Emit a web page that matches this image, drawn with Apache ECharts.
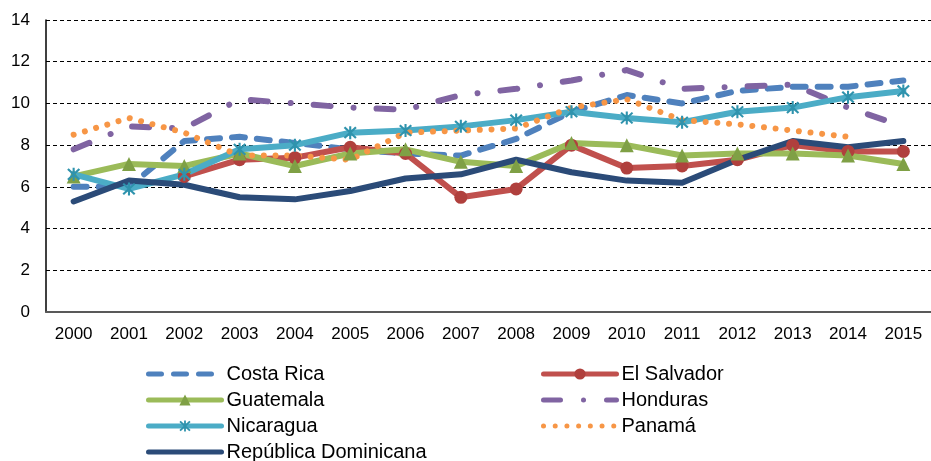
<!DOCTYPE html>
<html>
<head>
<meta charset="utf-8">
<script src="https://cdn.jsdelivr.net/npm/echarts@6/dist/echarts.min.js"></script>
<style>
  html, body { margin: 0; padding: 0; background: #fff; }
  #chart { width: 931px; height: 461px; }
</style>
</head>
<body>
<div id="chart"></div>
<script>
// Years on the horizontal axis
const years = ['2000','2001','2002','2003','2004','2005','2006','2007',
               '2008','2009','2010','2011','2012','2013','2014','2015'];

// Values per country (null = no data for that year)
const costaRica  = [6.0, 6.0, 8.2, 8.4, 8.1, 7.8, 7.6, 7.5, 8.3, 9.6, 10.4, 10.0, 10.6, 10.8, 10.8, 11.1];
const elSalvador = [null, null, 6.5, 7.3, 7.4, 7.9, 7.6, 5.5, 5.9, 8.0, 6.9, 7.0, 7.3, 8.0, 7.7, 7.7];
const guatemala  = [6.5, 7.1, 7.0, 7.6, 7.0, 7.6, 7.8, 7.2, 7.0, 8.1, 8.0, 7.5, 7.6, 7.6, 7.5, 7.1];
const honduras   = [7.8, 8.9, 8.8, 10.2, 10.0, 9.8, 9.7, 10.4, 10.7, 11.1, 11.6, 10.7, 10.8, 10.9, 9.8, 8.9];
const nicaragua  = [6.6, 5.9, 6.6, 7.8, 8.0, 8.6, 8.7, 8.9, 9.2, 9.6, 9.3, 9.1, 9.6, 9.8, 10.3, 10.6];
const panama     = [8.5, 9.3, 8.6, 7.5, 7.5, 7.3, 8.6, 8.7, 8.8, 9.8, 10.2, 9.2, 9.0, 8.7, 8.4, null];
const dominicana = [5.3, 6.3, 6.1, 5.5, 5.4, 5.8, 6.4, 6.6, 7.3, 6.7, 6.3, 6.2, 7.3, 8.2, 7.9, 8.2];

// Y axis ticks
const yMin = 0, yMax = 14, yStep = 2;

const FONT = '"Liberation Sans", Arial, sans-serif';
const LINE_W = 6;

// Asterisk marker built from three thin bars
const asterisk = 'path://M-0.9,-6L0.9,-6L0.9,6L-0.9,6Z' +
                 'M-5.6,-4.3L-4.3,-5.6L5.6,4.3L4.3,5.6Z' +
                 'M4.3,-5.6L5.6,-4.3L-4.3,5.6L-5.6,4.3Z';

function lineSeries(name, data, color, opts) {
  opts = opts || {};
  const hasMarker = !!opts.symbol;
  return {
    name: name,
    type: 'line',
    data: data,
    symbol: opts.symbol || 'circle',
    symbolSize: opts.symbolSize || 1,
    showSymbol: hasMarker,
    connectNulls: false,
    lineStyle: {
      color: color,
      width: LINE_W,
      type: opts.dash || 'solid',
      cap: 'round',
      join: 'round'
    },
    itemStyle: {
      color: opts.markerColor || color,
      opacity: hasMarker ? 1 : 0
    },
    emphasis: { disabled: true }
  };
}

const chart = echarts.init(document.getElementById('chart'), null, { renderer: 'canvas' });

const legendCommon = {
  orient: 'vertical',
  top: 364,
  height: 120,
  padding: 0,
  itemWidth: 73,
  itemHeight: 14,
  itemGap: 6,
  selectedMode: false,
  lineStyle: { width: 5 },
  textStyle: { fontFamily: FONT, fontSize: 20, color: '#000', lineHeight: 20 }
};

chart.setOption({
  animation: false,
  backgroundColor: '#fff',
  grid: { left: 46, top: 20, width: 890, height: 292, containLabel: false },
  legend: [
    Object.assign({}, legendCommon, {
      left: 146,
      data: ['Costa Rica', 'Guatemala', 'Nicaragua', 'República Dominicana']
    }),
    Object.assign({}, legendCommon, {
      left: 541,
      data: ['El Salvador', 'Honduras', 'Panamá']
    })
  ],
  xAxis: {
    type: 'category',
    data: years,
    boundaryGap: true,
    axisLine: { show: true, lineStyle: { color: '#595959', width: 2 } },
    axisTick: { show: false },
    axisLabel: { fontFamily: FONT, fontSize: 17, color: '#000', margin: 14, interval: 0 },
    splitLine: { show: false }
  },
  yAxis: {
    type: 'value',
    min: yMin,
    max: yMax,
    interval: yStep,
    axisLine: { show: true, lineStyle: { color: '#000', width: 1.5 } },
    axisTick: { show: false },
    axisLabel: { fontFamily: FONT, fontSize: 17, color: '#000', margin: 16 },
    splitLine: { show: true, lineStyle: { color: '#000', width: 1, type: [4, 3] } }
  },
  series: [
    lineSeries('Costa Rica', costaRica, '#4f81bd', { dash: [13, 12] }),
    lineSeries('El Salvador', elSalvador, '#c0504d', {
      symbol: 'circle', symbolSize: 13, markerColor: '#b0403d'
    }),
    lineSeries('Guatemala', guatemala, '#9bbb59', {
      symbol: 'triangle', symbolSize: 14, markerColor: '#7fa045'
    }),
    lineSeries('Honduras', honduras, '#8064a2', { dash: [17, 23, 0.01, 23] }),
    lineSeries('Nicaragua', nicaragua, '#4bacc6', {
      symbol: asterisk, symbolSize: 13, markerColor: '#2f93ad'
    }),
    lineSeries('Panamá', panama, '#f79646', { dash: [0.01, 11.7] }),
    lineSeries('República Dominicana', dominicana, '#2b4b78', {})
  ]
});
</script>
</body>
</html>
